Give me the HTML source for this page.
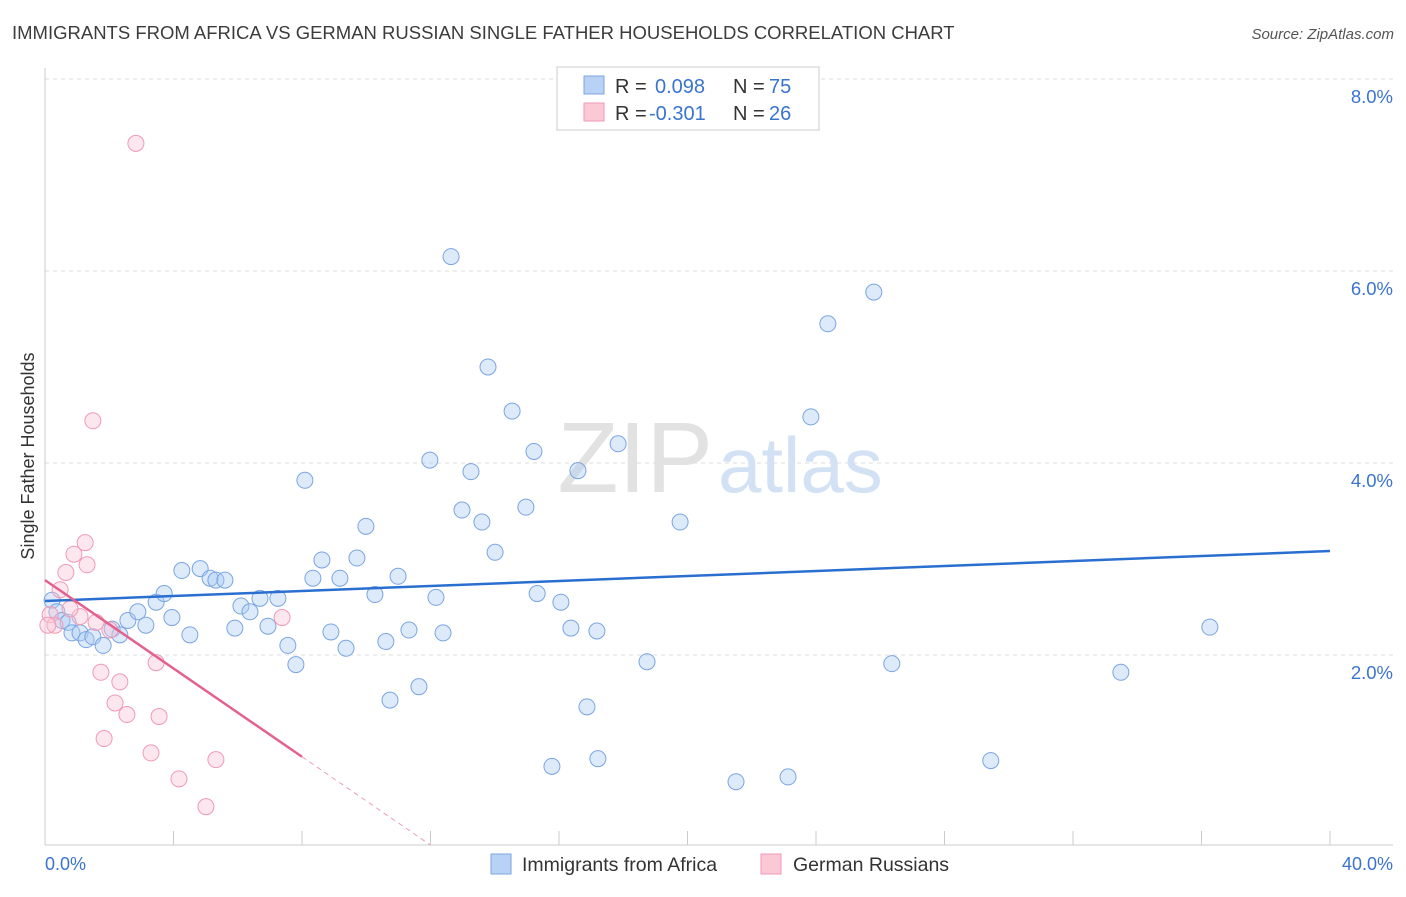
<!DOCTYPE html>
<html><head><meta charset="utf-8"><style>
body{margin:0;background:#fff;font-family:"Liberation Sans",sans-serif;}
svg text{font-family:"Liberation Sans",sans-serif;}
</style></head><body>
<svg id="chart" width="1406" height="892" xmlns="http://www.w3.org/2000/svg">
<text x="12" y="39" font-size="18.5" fill="#3c3c3c">IMMIGRANTS FROM AFRICA VS GERMAN RUSSIAN SINGLE FATHER HOUSEHOLDS CORRELATION CHART</text>
<text x="1394" y="39" font-size="15" fill="#555" text-anchor="end" font-style="italic">Source: ZipAtlas.com</text>
<g id="grid"></g>
<text x="713" y="492" font-size="100" font-family="Liberation Serif" fill="#e2e2e2" text-anchor="end">ZIP</text>
<text x="718" y="492" font-size="78" fill="#d2e2f4">atlas</text>
<line x1="45" y1="68" x2="45" y2="845" stroke="#ccc"/>
<line x1="45" y1="845" x2="1393" y2="845" stroke="#ccc"/>
<g id="ticks"></g>
<text transform="translate(34,456) rotate(-90)" font-size="18" fill="#333" text-anchor="middle">Single Father Households</text>
<text x="45" y="870" font-size="18" fill="#3a74d0">0.0%</text>
<text x="1393" y="870" font-size="18" fill="#3a74d0" text-anchor="end">40.0%</text>
<g id="pts"></g>
<g id="trends"></g>
<g>
<rect x="557" y="67" width="262" height="63" fill="#fff" stroke="#ccc"/>
<rect x="584" y="76" width="20" height="18" fill="#b8d2f5" stroke="#7ea6e0"/>
<rect x="584" y="103" width="20" height="18" fill="#fbc8d6" stroke="#f09ab4"/>
<text x="615" y="93" font-size="20" fill="#333">R =</text>
<text x="655" y="93" font-size="20" fill="#3a74d0">0.098</text>
<text x="733" y="93" font-size="20" fill="#333">N =</text>
<text x="769" y="93" font-size="20" fill="#3a74d0">75</text>
<text x="615" y="120" font-size="20" fill="#333">R =</text>
<text x="649" y="120" font-size="20" fill="#3a74d0">-0.301</text>
<text x="733" y="120" font-size="20" fill="#333">N =</text>
<text x="769" y="120" font-size="20" fill="#3a74d0">26</text>
</g>
<g>
<rect x="491" y="854" width="20" height="20" fill="#b8d2f5" stroke="#7ea6e0"/>
<text x="522" y="871" font-size="19.5" fill="#333">Immigrants from Africa</text>
<rect x="761" y="854" width="20" height="20" fill="#fbc8d6" stroke="#f09ab4"/>
<text x="793" y="871" font-size="19.5" fill="#333">German Russians</text>
</g>
</svg>
<script>
const yTicks=[2,4,6,8];
const xTicks=[4,8,12,16,20,24,28,32,36,40];
const blueX=[0.22,0.37,0.53,0.72,0.84,1.09,1.28,1.49,1.81,2.09,2.33,2.58,2.89,3.14,3.46,3.71,3.95,4.26,4.51,4.83,5.14,5.32,5.60,5.91,6.10,6.38,6.69,6.94,7.25,7.56,7.81,8.09,8.34,8.62,8.90,9.18,9.37,9.71,9.99,10.27,10.61,10.74,10.99,11.33,11.64,11.98,12.39,12.17,12.64,12.98,13.26,13.60,13.79,14.01,14.54,14.97,15.22,15.32,15.78,16.06,16.37,16.59,16.87,17.18,17.21,17.84,18.74,19.77,21.51,23.13,23.84,24.37,25.80,26.36,29.44,33.49,36.26];
const blueY=[2.57,2.45,2.36,2.34,2.23,2.23,2.16,2.19,2.10,2.27,2.21,2.36,2.45,2.31,2.55,2.64,2.39,2.88,2.21,2.90,2.80,2.78,2.78,2.28,2.51,2.45,2.59,2.30,2.59,2.10,1.90,3.82,2.80,2.99,2.24,2.80,2.07,3.01,3.34,2.63,2.14,1.53,2.82,2.26,1.67,4.03,2.23,2.60,6.15,3.51,3.91,3.385,5.00,3.07,4.54,3.54,4.12,2.64,0.84,2.55,2.28,3.92,1.46,2.25,0.92,4.20,1.93,3.385,0.68,0.73,4.48,5.45,5.78,1.91,0.90,1.82,2.29];
const pinkX=[0.16,0.31,0.47,0.65,0.90,1.09,1.25,1.31,1.49,1.59,1.74,1.84,2.02,2.18,2.33,2.55,2.83,3.30,3.46,3.55,4.17,5.01,5.32,7.38,0.09,0.78];
const pinkY=[2.42,2.31,2.68,2.86,3.05,2.40,3.17,2.94,4.44,2.34,1.82,1.13,2.26,1.50,1.72,1.38,7.33,0.98,1.92,1.36,0.71,0.42,0.91,2.39,2.31,2.48];
const blueTrend=[[0,2.5625],[40,3.083]];
const pinkTrend=[[0,2.78],[8,0.94],[12,0.02]];
const ns="http://www.w3.org/2000/svg";
const X=v=>45+v*32.125, Y=v=>847-v*96;
function mk(t,a,p){const e=document.createElementNS(ns,t);for(const k in a)e.setAttribute(k,a[k]);p.appendChild(e);return e;}
const grid=document.getElementById('grid'),ticks=document.getElementById('ticks'),pts=document.getElementById('pts'),tr=document.getElementById('trends');
yTicks.forEach(v=>{const l=mk('line',{x1:45,x2:1393,y1:Y(v),y2:Y(v),stroke:'#ddd','stroke-dasharray':'4,4'},grid);


const t=mk('text',{x:1393,y:Y(v)+24,'font-size':18.5,fill:'#3a74d0','text-anchor':'end'},grid);t.textContent=v.toFixed(1)+'%';

});
xTicks.forEach(v=>{const l=mk('line',{x1:X(v),x2:X(v),y1:831,y2:845,stroke:'#ccc'},ticks);

});
blueX.forEach((v,i)=>{const c=mk('circle',{cx:X(v),cy:Y(blueY[i]),r:8,fill:'rgba(170,202,242,0.4)',stroke:'#7aa5e2','stroke-width':1},pts);

});
pinkX.forEach((v,i)=>{const c=mk('circle',{cx:X(v),cy:Y(pinkY[i]),r:8,fill:'rgba(250,195,213,0.4)',stroke:'#f09ab4','stroke-width':1},pts);

});
let b=mk('line',{x1:X(blueTrend[0][0]),y1:Y(blueTrend[0][1]),x2:X(blueTrend[1][0]),y2:Y(blueTrend[1][1]),stroke:'#2a6fd0','stroke-width':2.5},tr);


let p1=mk('line',{x1:X(pinkTrend[0][0]),y1:Y(pinkTrend[0][1]),x2:X(pinkTrend[1][0]),y2:Y(pinkTrend[1][1]),stroke:'#e4608e','stroke-width':2.5},tr);


let p2=mk('line',{x1:X(pinkTrend[1][0]),y1:Y(pinkTrend[1][1]),x2:X(pinkTrend[2][0]),y2:Y(pinkTrend[2][1]),stroke:'#e8a0b8','stroke-width':1,'stroke-dasharray':'5,4'},tr);


</script>
</body></html>
